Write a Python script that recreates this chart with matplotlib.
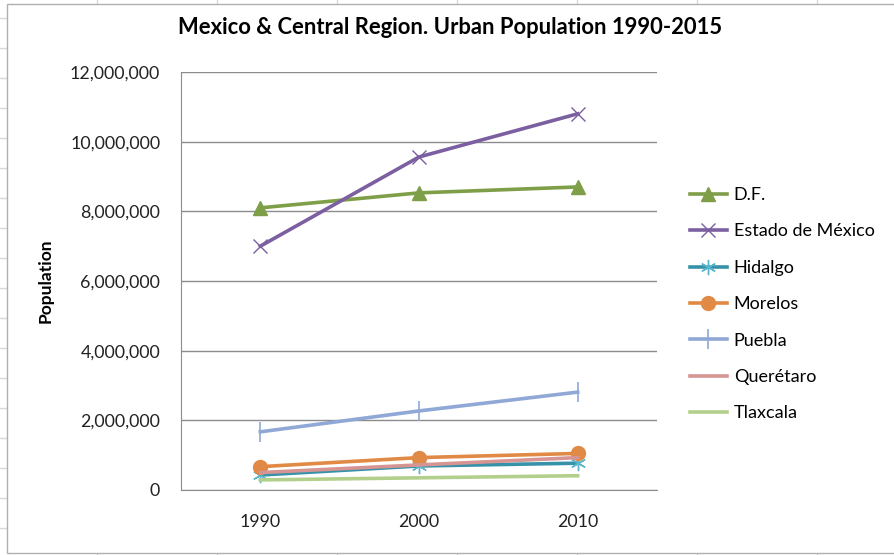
import matplotlib.pyplot as plt
from matplotlib.patches import Rectangle
from matplotlib.ticker import FuncFormatter

years = ["1990", "2000", "2010"]
df = [8100000, 8530000, 8700000]
edomex = [7000000, 9560000, 10800000]
hidalgo = [430000, 690000, 770000]
morelos = [670000, 930000, 1050000]
puebla = [1670000, 2270000, 2810000]
queretaro = [500000, 720000, 930000]
tlaxcala = [290000, 350000, 410000]

plt.rcParams['font.family'] = ['Lato', 'DejaVu Sans']

W, H = 894, 555
fig = plt.figure(figsize=(W / 100, H / 100), dpi=100)
fig.patch.set_facecolor('white')

# spreadsheet grid behind the chart
bg = fig.add_axes([0, 0, 1, 1])
bg.set_xlim(0, W)
bg.set_ylim(H, 0)
bg.axis('off')
for gx in range(-23, W, 120):
    bg.plot([gx, gx], [0, H], color='#d9d9d9', lw=1)
for gy in range(18, H, 30):
    bg.plot([0, W], [gy, gy], color='#d9d9d9', lw=1)
bg.add_patch(Rectangle((7, 4), W + 10, 549, facecolor='white',
                       edgecolor='#b0b0b0', lw=1, zorder=3))

ax = fig.add_axes([181 / W, 1 - 490 / H, 476 / W, 418 / H])
ax.set_zorder(5)
x = range(len(years))

ax.plot(x, df, color='#7e9e48', lw=2.6, marker='^', ms=10, label='D.F.')
ax.plot(x, edomex, color='#7b5fa0', lw=2.6, marker='x', ms=10, mew=1,
        label='Estado de México')
ax.plot(x, hidalgo, color='#3592a8', lw=2.6, marker=(6, 2, 0), ms=11,
        mew=1, mec='#5ab4cc', label='Hidalgo')
ax.plot(x, morelos, color='#e08a45', lw=2.6, marker='o', ms=10,
        label='Morelos')
ax.plot(x, puebla, color='#8fa8d6', lw=2.6, marker='|', ms=14, mew=1.2,
        label='Puebla')
ax.plot(x, queretaro, color='#d69592', lw=2.6, label='Querétaro')
ax.plot(x, tlaxcala, color='#b3cf8c', lw=2.6, label='Tlaxcala')

ax.set_xlim(-0.5, 2.5)
ax.set_ylim(0, 12000000)
ax.set_yticks(range(0, 12000001, 2000000))
ax.yaxis.set_major_formatter(FuncFormatter(lambda v, p: f"{int(v):,}"))
ax.set_xticks(list(x))
ax.set_xticklabels(years)
ax.tick_params(length=0, labelsize=12.8, colors='#222222')
ax.tick_params(axis='y', pad=15)
ax.tick_params(axis='x', pad=17)
ax.grid(axis='y', color='#8c8c8c', lw=1)
ax.set_axisbelow(True)
for s in ['top', 'right']:
    ax.spines[s].set_visible(False)
for s in ['left', 'bottom']:
    ax.spines[s].set_color('#8c8c8c')

ax.set_ylabel('Population', fontsize=12.5, fontweight='bold', labelpad=12)
ax.set_title('Mexico & Central Region. Urban Population 1990-2015',
             fontsize=15.8, fontweight='bold', pad=27, x=0.565)

ax.legend(loc='upper left', bbox_to_anchor=(1.055, 0.742), frameon=False,
          fontsize=13, handlelength=2.0, handletextpad=0.4,
          labelspacing=1.13, borderaxespad=0, borderpad=0.4)

fig.savefig('out.png', dpi=100)
